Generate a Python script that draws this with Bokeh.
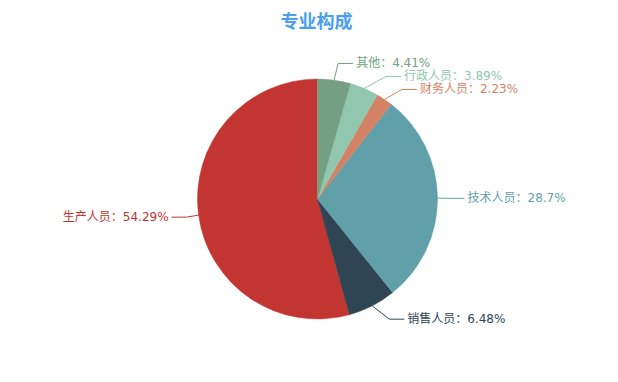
import math
from bokeh.plotting import figure
from bokeh.models import Range1d, ColumnDataSource
from bokeh.core.properties import value
from bokeh.embed import file_html
from bokeh.resources import INLINE

# ---- data ----
title_text = "专业构成"
categories = ["生产人员", "销售人员", "技术人员", "财务人员", "行政人员", "其他"]
percents = [54.29, 6.48, 28.7, 2.23, 3.89, 4.41]
colors = ["#c23531", "#2f4554", "#61a0a8", "#d48265", "#91c7ae", "#749f83"]
pct_labels = ["54.29%", "6.48%", "28.7%", "2.23%", "3.89%", "4.41%"]

# ---- layout (reference pixel space) ----
WIN_W, WIN_H = 618, 382
M = 8
FW, FH = WIN_W - 2 * M, WIN_H - 2 * M
CX, CY = 317.0, 198.5      # pie centre (screen px)
R = 120.0
LEN1, LEN2 = 15.0, 15.0
LBL_H = 13.0
FONT = "DejaVu Sans, Noto Sans CJK SC"


def Y(sy):
    return WIN_H - sy


total = float(sum(percents))
cum = 0.0
starts, ends = [], []
items = []
for i, v in enumerate(percents):
    frac = v / total
    a0, a1 = cum, cum + frac
    cum = a1
    # counter-clockwise from 12 o'clock
    s = math.pi / 2 + 2 * math.pi * a0
    e = math.pi / 2 + 2 * math.pi * a1
    starts.append(s)
    ends.append(e)
    mid = (s + e) / 2
    dx = math.cos(mid)
    dy = -math.sin(mid)  # screen direction
    x1, y1 = CX + R * dx, CY + R * dy
    x2, y2 = CX + (R + LEN1) * dx, CY + (R + LEN1) * dy
    sgn = -1 if dx < 0 else 1
    x3 = x2 + sgn * LEN2
    tx = x3 + sgn * 5
    items.append(dict(i=i, x=tx, y=y2, h=LBL_H, len=LEN1, len2=LEN2,
                      pts=[[x1, y1], [x2, y2], [x3, y2]]))


def adjust_side(lst, d):
    lst.sort(key=lambda it: it["y"])
    n = len(lst)

    def shift_up(end, delta):
        for j in range(end, -1, -1):
            lst[j]["y"] -= delta
            if j > 0 and lst[j]["y"] > lst[j - 1]["y"] + lst[j - 1]["h"]:
                break

    def shift_down(start, end, delta):
        for j in range(start, end):
            lst[j]["y"] += delta
            if j > start and j + 1 < end and lst[j + 1]["y"] > lst[j]["y"] + lst[j]["h"]:
                shift_up(j, delta / 2)
                return
        shift_up(end - 1, delta / 2)

    last_y = 0.0
    for k in range(n):
        delta = lst[k]["y"] - last_y
        if delta < 0:
            shift_down(k, n, -delta)
        last_y = lst[k]["y"] + lst[k]["h"]

    up = [it for it in lst if it["y"] < CY]
    down = [it for it in lst if it["y"] >= CY]

    def change_x(sub, is_down):
        last_dx = float("inf") if is_down else 0.0
        for it in sub:
            ddy = abs(it["y"] - CY)
            rr = R + it["len"] + it["len2"]
            if ddy < R + it["len"]:
                ddx = math.sqrt(rr * rr - ddy * ddy)
            else:
                ddx = abs(it["x"] - CX)
            if is_down and ddx >= last_dx:
                ddx = last_dx - 10
            if (not is_down) and ddx <= last_dx:
                ddx = last_dx + 10
            it["x"] = CX + ddx * d
            last_dx = ddx

    change_x(up, False)
    change_x(down, True)


left = [it for it in items if it["x"] < CX]
right = [it for it in items if it["x"] >= CX]
adjust_side(right, 1)
adjust_side(left, -1)

line_xs, line_ys, line_cols = [], [], []
tx_r, ty_r, tt_r, tc_r = [], [], [], []
tx_l, ty_l, tt_l, tc_l = [], [], [], []
for it in items:
    pts = it["pts"]
    dist = pts[1][0] - pts[2][0]
    if it["x"] < CX:
        pts[2][0] = it["x"] + 3
    else:
        pts[2][0] = it["x"] - 3
    pts[1][1] = pts[2][1] = it["y"]
    pts[1][0] = pts[2][0] + dist
    i = it["i"]
    line_xs.append([p[0] for p in pts])
    line_ys.append([Y(p[1]) for p in pts])
    line_cols.append(colors[i])
    label = f"{categories[i]}：{pct_labels[i]}"
    if it["x"] < CX:
        tx_l.append(it["x"]); ty_l.append(Y(it["y"])); tt_l.append(label); tc_l.append(colors[i])
    else:
        tx_r.append(it["x"]); ty_r.append(Y(it["y"])); tt_r.append(label); tc_r.append(colors[i])

# figure is drawn at the page origin; map data coordinates to window pixels
p = figure(width=FW, height=FH, output_backend="svg", toolbar_location=None,
           x_range=Range1d(0, FW), y_range=Range1d(WIN_H - FH, WIN_H),
           x_axis_type=None, y_axis_type=None, min_border=0)
p.grid.visible = False
p.outline_line_color = None
p.background_fill_color = "white"
p.border_fill_color = "white"

src = ColumnDataSource(dict(start=starts, end=ends, color=colors,
                            x=[CX] * len(percents), y=[Y(CY)] * len(percents)))
p.wedge(x="x", y="y", radius=R, start_angle="start", end_angle="end",
        direction="anticlock", fill_color="color", line_color="color",
        line_width=0.5, source=src)

p.multi_line(xs=line_xs, ys=line_ys, line_color=line_cols, line_width=1)

p.text(x=tx_r, y=ty_r, text=tt_r, text_color=tc_r, text_align="left",
       text_baseline="middle", text_font_size="12px", text_font=value(FONT))
p.text(x=tx_l, y=ty_l, text=tt_l, text_color=tc_l, text_align="right",
       text_baseline="middle", text_font_size="12px", text_font=value(FONT))

p.text(x=[316], y=[Y(21)], text=[title_text], text_color="#4a9ef0",
       text_align="center", text_baseline="middle", text_font_size="18px",
       text_font_style="bold", text_font=value(FONT))

open("out.html", "w").write(file_html(p, INLINE))
